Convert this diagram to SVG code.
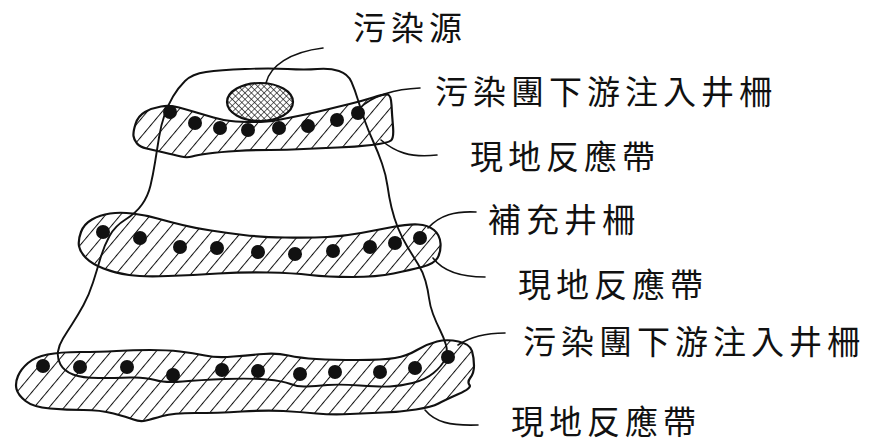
<svg xmlns="http://www.w3.org/2000/svg" width="884" height="445" viewBox="0 0 884 445">
  <style>
    .band { fill: url(#hatch); stroke: #111; stroke-width: 2.2; stroke-linejoin: round; }
    .plume { fill: none; stroke: #111; stroke-width: 1.9; stroke-linejoin: round; }
    .leader { fill: none; stroke: #111; stroke-width: 1.6; stroke-linecap: round; }
    .well { fill: #111; }
    .label { font-family: "Noto Sans CJK TC", "Noto Sans CJK SC", sans-serif; font-size: 33px; letter-spacing: 5px; fill: #111; }
  </style>
  <defs>
    <!-- single diagonal hatch for reaction zones -->
    <pattern id="hatch" patternUnits="userSpaceOnUse" width="11.5" height="10" patternTransform="rotate(40)">
      <line x1="0" y1="0" x2="0" y2="10" stroke="#111" stroke-width="2"/>
    </pattern>
    <!-- cross hatch for the contaminant source -->
    <pattern id="cross" patternUnits="userSpaceOnUse" width="4.5" height="4.5" patternTransform="rotate(45)">
      <path d="M0,0 V4.5 M0,0 H4.5" stroke="#111" stroke-width="1.2" fill="none"/>
    </pattern>
  </defs>
  <rect width="884" height="445" fill="#fff"/>

  <!-- upper reaction zone -->
  <g id="zone-top">
    <path class="band" d="M133.5,136 Q133,132 135.5,124 Q138,116 145,112 Q152,108 161,106.5 Q170,105 179,107.5 Q188,110 196.5,112.5 Q205,115 213.5,117.5 Q222,120 231,121 Q240,122 254,122 Q268,122 278,120 Q288,118 300.5,115.5 Q313,113 325,110 Q337,107 349.5,104 Q362,101 373,97.5 Q384,94 387.5,94.5 Q391,95 391.5,105 Q392,115 393,126.5 Q394,138 391,140.5 Q388,143 371.5,145 Q355,147 337.5,147.5 Q320,148 303.5,149 Q287,150 270,150 Q253,150 236.5,151 Q220,152 208.5,153.5 Q197,155 192,156.5 Q187,158 181,156.5 Q175,155 164,152.5 Q153,150 146.5,148.5 Q140,147 137,143.5 Q134,140 133.5,136 Z"/>
  </g>

  <!-- middle reaction zone -->
  <g id="zone-middle">
    <path class="band" d="M79,246 Q78,240 81,232 Q84,224 92,219.5 Q100,215 110,213.5 Q120,212 132.5,213.5 Q145,215 157.5,218.5 Q170,222 182.5,225 Q195,228 211,230.5 Q227,233 243.5,235 Q260,237 285,237.5 Q310,238 327.5,237 Q345,236 361,233 Q377,230 392.5,227 Q408,224 418,224.5 Q428,225 434,230 Q440,235 440.5,243.5 Q441,252 437.5,258 Q434,264 422,267 Q410,270 393.5,273.5 Q377,277 352,277 Q327,277 310,275 Q293,273 268,272.5 Q243,272 218,273.5 Q193,275 168,276 Q143,277 129,275 Q115,273 103.5,268.5 Q92,264 86,258 Q80,252 79,246 Z"/>
  </g>

  <!-- lower reaction zone -->
  <g id="zone-bottom">
    <path class="band" d="M16.5,389 Q15,383 18,376 Q21,369 28,363 Q35,357 47.5,354.5 Q60,352 80,352 Q100,352 116.5,351 Q133,350 150,350 Q167,350 180,351.5 Q193,353 205,355.5 Q217,358 233.5,356.5 Q250,355 263.5,354 Q277,353 288.5,355.5 Q300,358 316.5,359 Q333,360 358,360 Q383,360 395,358 Q407,356 417,350 Q427,344 437,341.5 Q447,339 458.5,341.5 Q470,344 472,351 Q474,358 474,365.5 Q474,373 470.5,377.5 Q467,382 469.5,385 Q472,388 458.5,394 Q445,400 438.5,403.5 Q432,407 416,409.5 Q400,412 383.5,412.5 Q367,413 350,414 Q333,415 316.5,413.5 Q300,412 283.5,411 Q267,410 242,411.5 Q217,413 195,413 Q173,413 162.5,416 Q152,419 146,420.5 Q140,422 133.5,419.5 Q127,417 113.5,413.5 Q100,410 83.5,410 Q67,410 50,408.5 Q33,407 25.5,401 Q18,395 16.5,389 Z"/>
  </g>

  <!-- contaminant plume boundary -->
  <g id="plume">
    <path class="plume" d="M164.5,115 Q168,105 173,96.5 Q178,88 185,81 Q192,74 206,72 Q220,70 245,69 Q270,68 287.5,69 Q305,70 317.5,69 Q330,68 339,71 Q348,74 351.5,82 Q355,90 358,100 Q361,110 364.5,120 Q368,130 373,141 Q378,152 382,163.5 Q386,175 387.5,186 Q389,197 391.5,207.5 Q394,218 398,228 Q402,238 407.5,247 Q413,256 418,264 Q423,272 425.5,281 Q428,290 429,298 Q430,306 433,314 Q436,322 440,330 Q444,338 446,345 Q448,352 445,359 Q442,366 433.5,373 Q425,380 412.5,383 Q400,386 390,386.5 Q380,387 360,385.5 Q340,384 327.5,385 Q315,386 306.5,386.5 Q298,387 290.5,384 Q283,381 266.5,379.5 Q250,378 225,379 Q200,380 182.5,381.5 Q165,383 155,380 Q145,377 130,377.5 Q115,378 98.5,378 Q82,378 73,374.5 Q64,371 60.5,364.5 Q57,358 58,351.5 Q59,345 63,338.5 Q67,332 72.5,323.5 Q78,315 83.5,305 Q89,295 93,282.5 Q97,270 100.5,258 Q104,246 109.5,236 Q115,226 125.5,219.5 Q136,213 142,204.5 Q148,196 150.5,185.5 Q153,175 155,162.5 Q157,150 159,137.5 Q161,125 164.5,115 Z"/>
  </g>

  <!-- contaminant source -->
  <g id="source">
    <ellipse cx="260" cy="102" rx="33" ry="19" fill="url(#cross)" stroke="#111" stroke-width="2.2"/>
  </g>

  <!-- injection wells -->
  <g id="wells-top">
    <circle class="well" cx="170" cy="112" r="7"/>
    <circle class="well" cx="195" cy="123" r="7"/>
    <circle class="well" cx="220" cy="128" r="7"/>
    <circle class="well" cx="248" cy="130" r="7"/>
    <circle class="well" cx="279" cy="128" r="7"/>
    <circle class="well" cx="308" cy="126" r="7"/>
    <circle class="well" cx="337" cy="120" r="7"/>
    <circle class="well" cx="358" cy="113" r="7"/>
  </g>
  <g id="wells-middle">
    <circle class="well" cx="103" cy="232" r="7"/>
    <circle class="well" cx="140" cy="238" r="7"/>
    <circle class="well" cx="180" cy="247" r="7"/>
    <circle class="well" cx="217" cy="248" r="7"/>
    <circle class="well" cx="258" cy="252" r="7"/>
    <circle class="well" cx="295" cy="254" r="7"/>
    <circle class="well" cx="333" cy="251" r="7"/>
    <circle class="well" cx="370" cy="247" r="7"/>
    <circle class="well" cx="395" cy="243" r="7"/>
    <circle class="well" cx="420" cy="238" r="7"/>
  </g>
  <g id="wells-bottom">
    <circle class="well" cx="43" cy="366" r="7"/>
    <circle class="well" cx="80" cy="367" r="7"/>
    <circle class="well" cx="127" cy="367" r="7"/>
    <circle class="well" cx="173" cy="375" r="7"/>
    <circle class="well" cx="222" cy="370" r="7"/>
    <circle class="well" cx="258" cy="371" r="7"/>
    <circle class="well" cx="300" cy="374" r="7"/>
    <circle class="well" cx="335" cy="372" r="7"/>
    <circle class="well" cx="380" cy="372" r="7"/>
    <circle class="well" cx="415" cy="368" r="7"/>
    <circle class="well" cx="448" cy="357" r="7"/>
  </g>

  <!-- leader lines -->
  <g id="connectors">
    <path class="leader" d="M266,83 C270,66 290,52 323,48"/>
    <path class="leader" d="M360,108 C372,96 395,89 420,88"/>
    <path class="leader" d="M381,140 C395,152 410,158 437,155"/>
    <path class="leader" d="M428,228 C440,215 455,211 476,212"/>
    <path class="leader" d="M433,258 C442,270 460,277 485,277"/>
    <path class="leader" d="M458,345 C470,337 485,333 505,333"/>
    <path class="leader" d="M425,410 C435,422 450,426 478,425"/>
  </g>

  <!-- labels -->
  <g id="label-source"><text class="label" x="353" y="40">污染源</text></g>
  <g id="label-wells-top"><text class="label" x="435" y="104">污染團下游注入井柵</text></g>
  <g id="label-zone-top"><text class="label" x="470" y="169">現地反應帶</text></g>
  <g id="label-wells-middle"><text class="label" x="488" y="232">補充井柵</text></g>
  <g id="label-zone-middle"><text class="label" x="518" y="297">現地反應帶</text></g>
  <g id="label-wells-bottom"><text class="label" x="523" y="354">污染團下游注入井柵</text></g>
  <g id="label-zone-bottom"><text class="label" x="511" y="434">現地反應帶</text></g>
</svg>
